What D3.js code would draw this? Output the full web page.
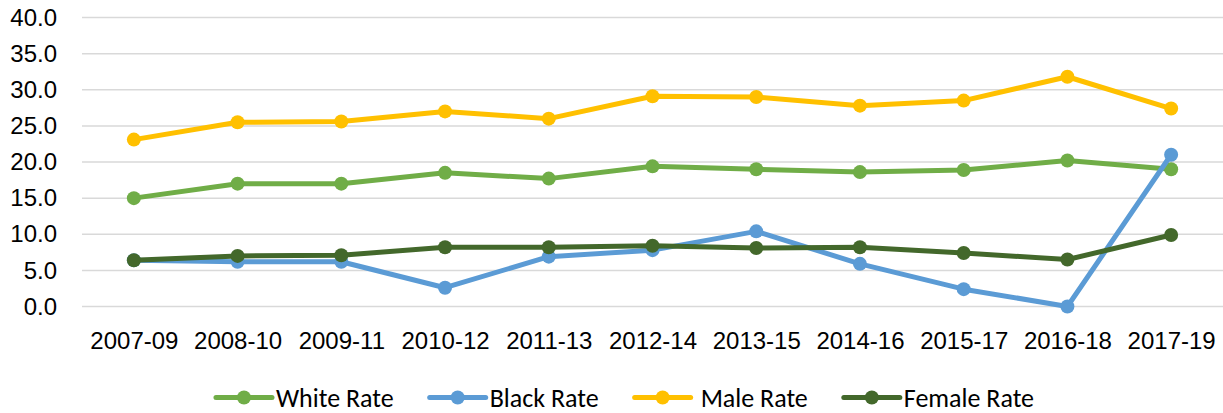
<!DOCTYPE html>
<html>
<head>
<meta charset="utf-8">
<script src="https://cdn.jsdelivr.net/npm/d3@7"></script>
<style>
  html, body { margin: 0; padding: 0; background: #fff; }
  svg { display: block; font-family: Carlito, Calibri, Lato, "Liberation Sans", sans-serif; }
</style>
</head>
<body>
<div id="chart"></div>
<script>
const periods = ['2007-09', '2008-10', '2009-11', '2010-12', '2011-13', '2012-14',
  '2013-15', '2014-16', '2015-17', '2016-18', '2017-19'];
const whiteRate = [15.0, 17.0, 17.0, 18.5, 17.7, 19.4, 19.0, 18.6, 18.9, 20.2, 19.0];
const blackRate = [6.4, 6.2, 6.2, 2.6, 6.9, 7.8, 10.4, 5.9, 2.4, 0.0, 21.0];
const maleRate = [23.1, 25.5, 25.6, 27.0, 26.0, 29.1, 29.0, 27.8, 28.5, 31.8, 27.4];
const femaleRate = [6.4, 7.0, 7.1, 8.2, 8.2, 8.4, 8.1, 8.2, 7.4, 6.5, 9.9];
const yTicks = [0, 5, 10, 15, 20, 25, 30, 35, 40];

const series = [
  { name: 'White Rate', values: whiteRate, color: '#70AD47' },
  { name: 'Black Rate', values: blackRate, color: '#5B9BD5' },
  { name: 'Male Rate', values: maleRate, color: '#FFC000' },
  { name: 'Female Rate', values: femaleRate, color: '#43682B' },
];

const width = 1223;
const height = 413;
const plot = { left: 82, right: 1223, top: 17.5, bottom: 306.5 };

const svg = d3.select('#chart')
  .append('svg')
  .attr('width', width)
  .attr('height', height);

const x = d3.scalePoint()
  .domain(periods)
  .range([plot.left, plot.right])
  .padding(0.5);

const y = d3.scaleLinear()
  .domain([0, 40])
  .range([plot.bottom, plot.top]);

// gridlines
svg.append('g')
  .selectAll('line')
  .data(yTicks)
  .enter()
  .append('line')
  .attr('x1', plot.left)
  .attr('x2', plot.right)
  .attr('y1', (d) => y(d))
  .attr('y2', (d) => y(d))
  .attr('stroke', '#d9d9d9')
  .attr('stroke-width', 1.5);

// y axis labels
const yAxis = svg.append('g')
  .attr('transform', 'translate(57,0)')
  .call(d3.axisLeft(y).tickValues(yTicks).tickFormat(d3.format('.1f')).tickSize(0).tickPadding(0));
yAxis.select('.domain').remove();
yAxis.selectAll('text')
  .attr('font-size', 24)
  .attr('font-family', null)
  .attr('fill', '#000');

// x axis labels
const xAxis = svg.append('g')
  .attr('transform', `translate(0,${plot.bottom})`)
  .call(d3.axisBottom(x).tickSize(0).tickPadding(25));
xAxis.select('.domain').remove();
xAxis.selectAll('text')
  .attr('font-size', 24)
  .attr('font-family', null)
  .attr('fill', '#000');

const line = d3.line()
  .x((d, i) => x(periods[i]))
  .y((d) => y(d));

series.forEach((s) => {
  const g = svg.append('g');
  g.append('path')
    .attr('d', line(s.values))
    .attr('fill', 'none')
    .attr('stroke', s.color)
    .attr('stroke-width', 5)
    .attr('stroke-linejoin', 'round')
    .attr('stroke-linecap', 'round');
  g.selectAll('circle')
    .data(s.values)
    .enter()
    .append('circle')
    .attr('cx', (d, i) => x(periods[i]))
    .attr('cy', (d) => y(d))
    .attr('r', 7)
    .attr('fill', s.color);
});

// legend
const legend = svg.append('g');
let cursor = 0;
series.forEach((s) => {
  const gap = s.name === 'Male Rate' ? 66 : 60;
  const item = legend.append('g').attr('transform', `translate(${cursor},0)`);
  item.append('line')
    .attr('x1', 0)
    .attr('x2', 56)
    .attr('y1', 0)
    .attr('y2', 0)
    .attr('stroke', s.color)
    .attr('stroke-width', 5)
    .attr('stroke-linecap', 'round');
  item.append('circle')
    .attr('cx', 28)
    .attr('cy', 0)
    .attr('r', 7)
    .attr('fill', s.color);
  const label = item.append('text')
    .attr('x', gap)
    .attr('y', 9)
    .attr('font-size', 26)
    .attr('fill', '#000')
    .text(s.name);
  cursor += gap + label.node().getComputedTextLength() + 36;
});
const legendWidth = cursor - 36;
legend.attr('transform', `translate(${625 - legendWidth / 2},397.5)`);
</script>
</body>
</html>
